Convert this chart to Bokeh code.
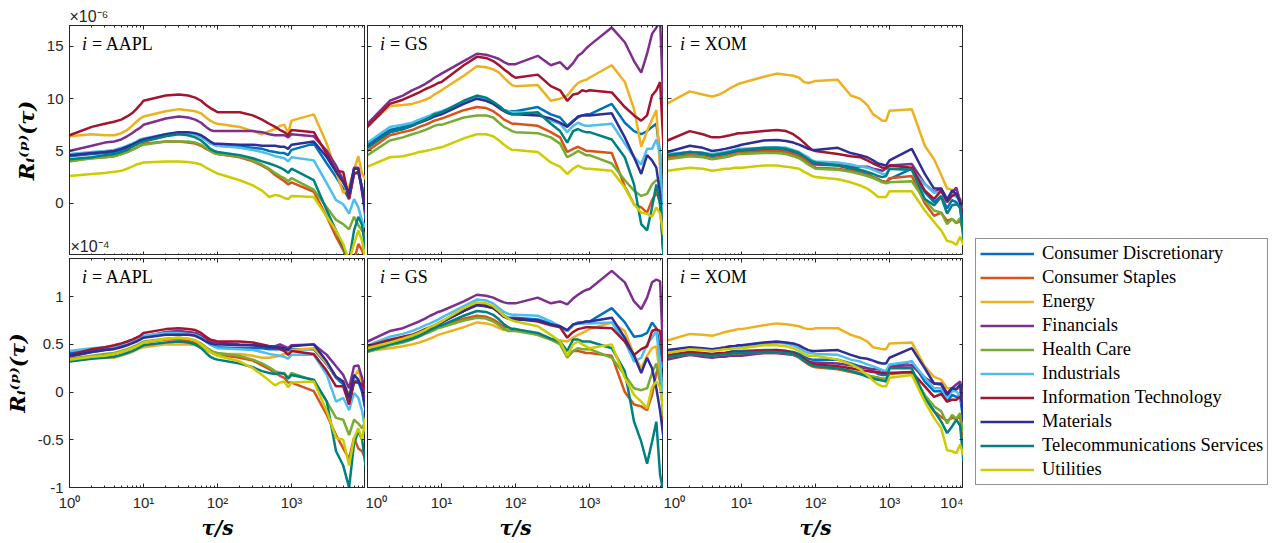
from bokeh.plotting import figure
from bokeh.models import (Range1d, LinearAxis, LogAxis, FixedTicker,
                          CustomJSTickFormatter, Label, Legend, LegendItem)
from bokeh.layouts import row, column
from bokeh.embed import file_html
from bokeh.resources import INLINE

# ---------------- data ----------------
tau = [1, 2, 3, 4, 5, 6, 7, 8, 9,
       10, 20, 30, 40, 50, 60, 70, 80, 90,
       100, 200, 300, 400, 500, 600, 700, 800, 900,
       1000, 2000, 3000, 4000, 5000, 6000, 7000, 8000, 9000,
       10000]

sectors = ["Consumer Discretionary", "Consumer Staples", "Energy", "Financials",
           "Health Care", "Industrials", "Information Technology", "Materials",
           "Telecommunications Services", "Utilities"]
colors = ["#0072BD", "#D95319", "#EDB120", "#7E2F8E", "#77AC30",
          "#4DBEEE", "#A2142F", "#2E2E96", "#008080", "#CCCC00"]
stocks = ["AAPL", "GS", "XOM"]

# ---- top row, R_i^(p)(tau) in units of 1e-6 ----
top_AAPL_CD = [4.5, 4.7, 4.8, 4.9, 5.1, 5.3, 5.5, 5.7, 5.9, 6.0, 6.5, 6.7, 6.7, 6.6, 6.4, 6.1, 5.8, 5.6,
               5.5, 5.4, 5.3, 5.2, 5.0, 4.9, 4.8, 4.8, 4.6, 5.1, 5.7, 3.8, 2.5, 1.4, 0.4, 2.9, 2.9, 1.5, -1.5]
top_AAPL_CS = [4.1, 4.3, 4.4, 4.5, 4.7, 4.9, 5.1, 5.3, 5.5, 5.7, 5.9, 5.9, 5.8, 5.7, 5.5, 5.2, 5.0, 4.8,
               4.7, 4.4, 4.0, 3.6, 3.2, 2.7, 2.4, 2.1, 1.8, 2.0, 1.1, -1.3, -3.2, -4.5, -5.5, -5.5, -3.9, -4.5, -5.5]
top_AAPL_EN = [6.4, 6.6, 6.5, 6.5, 6.7, 7.0, 7.4, 7.8, 8.1, 8.3, 8.8, 9.0, 8.9, 8.8, 8.6, 8.2, 7.9, 7.7,
               7.6, 7.3, 6.9, 6.6, 6.9, 7.1, 7.4, 7.5, 6.7, 7.9, 8.5, 5.7, 3.0, 1.0, 1.6, 3.2, 4.5, 2.8, 2.3]
top_AAPL_FI = [5.0, 5.5, 5.8, 5.9, 6.1, 6.4, 6.7, 7.0, 7.2, 7.5, 8.1, 8.3, 8.2, 8.0, 7.7, 7.3, 7.0, 6.9,
               6.9, 6.9, 6.9, 6.8, 6.6, 6.5, 6.5, 6.5, 6.3, 6.6, 6.4, 5.0, 3.6, 2.2, 1.0, 3.4, 3.4, 1.0, -1.0]
top_AAPL_HC = [4.0, 4.3, 4.4, 4.5, 4.7, 4.9, 5.1, 5.3, 5.5, 5.6, 5.9, 5.9, 5.9, 5.8, 5.6, 5.3, 5.0, 4.8,
               4.7, 4.5, 4.1, 3.7, 3.3, 2.9, 2.6, 2.4, 2.1, 2.4, 1.3, -0.4, -1.6, -2.0, -2.5, -1.3, -2.1, -2.6, -3.2]
top_AAPL_IN = [4.7, 4.9, 5.0, 5.1, 5.3, 5.5, 5.7, 5.9, 6.1, 6.2, 6.6, 6.8, 6.7, 6.6, 6.3, 6.0, 5.7, 5.6,
               5.5, 5.3, 5.1, 4.9, 4.7, 4.5, 4.4, 4.3, 4.0, 4.4, 4.1, 1.9, 0.3, -0.1, -1.0, 0.4, -0.4, -1.7, -2.3]
top_AAPL_IT = [6.5, 7.3, 7.6, 7.8, 8.0, 8.3, 8.6, 9.0, 9.4, 9.8, 10.3, 10.4, 10.3, 10.1, 9.8, 9.4, 9.1, 8.9,
               8.7, 8.7, 8.4, 8.0, 7.6, 7.3, 7.0, 6.8, 6.5, 7.0, 6.8, 4.7, 3.1, 3.0, 0.4, 2.8, 3.0, 1.5, -0.5]
top_AAPL_MA = [4.6, 4.8, 4.9, 5.0, 5.2, 5.4, 5.6, 5.8, 6.0, 6.1, 6.6, 6.8, 6.8, 6.7, 6.5, 6.2, 5.9, 5.7,
               5.7, 5.6, 5.6, 5.5, 5.5, 5.5, 5.4, 5.4, 5.2, 5.6, 5.9, 4.4, 3.0, 2.0, 0.9, 3.3, 3.3, 1.2, -0.7]
top_AAPL_TE = [4.2, 4.4, 4.6, 4.7, 4.9, 5.1, 5.4, 5.6, 5.8, 5.9, 6.4, 6.6, 6.5, 6.3, 6.0, 5.6, 5.2, 5.0,
               4.9, 4.6, 4.3, 4.0, 3.8, 3.6, 3.4, 3.2, 2.9, 3.3, 2.2, -0.7, -2.6, -4.2, -5.5, -2.6, -1.3, -2.1, -4.5]
top_AAPL_UT = [2.6, 2.8, 2.9, 3.0, 3.1, 3.3, 3.5, 3.7, 3.8, 3.9, 4.0, 4.0, 3.95, 3.85, 3.7, 3.4, 3.2, 3.0,
               2.85, 2.2, 1.7, 1.2, 0.6, 0.8, 0.7, 0.5, 0.4, 0.7, 0.6, -1.3, -2.6, -3.9, -5.5, -3.9, -2.6, -3.6, -5.5]

top_GS_CD = [5.7, 7.0, 7.3, 7.6, 7.9, 8.1, 8.3, 8.5, 8.6, 8.7, 9.6, 10.1, 9.9, 9.6, 9.3, 8.9, 8.8, 8.8,
             8.8, 9.2, 8.5, 8.2, 7.4, 7.9, 8.2, 8.4, 8.5, 8.5, 9.5, 7.7, 6.9, 6.6, 6.9, 7.3, 7.6, 4.7, -5.0]
top_GS_CS = [5.0, 6.5, 6.8, 7.0, 7.3, 7.5, 7.7, 7.9, 8.0, 8.1, 8.9, 9.2, 9.1, 8.8, 8.4, 8.0, 7.8, 7.6,
             7.6, 7.4, 6.8, 6.3, 4.9, 5.2, 5.4, 5.2, 5.0, 5.0, 4.8, 1.6, -0.1, -0.4, -0.9, 0.3, 1.0, 0.2, -5.0]
top_GS_EN = [7.4, 9.3, 9.4, 9.5, 9.7, 9.9, 10.1, 10.4, 10.6, 10.8, 12.2, 13.1, 13.0, 12.8, 12.5, 12.0, 11.6, 11.3,
             11.2, 11.3, 9.8, 10.0, 10.3, 11.0, 11.5, 11.7, 11.8, 12.0, 13.2, 11.6, 9.0, 5.4, 6.9, 8.0, 8.9, 3.1, -4.5]
top_GS_FI = [7.6, 9.8, 10.3, 10.8, 11.1, 11.4, 11.7, 12.0, 12.2, 12.4, 13.6, 14.3, 14.2, 14.0, 13.8, 13.5, 13.3, 13.3,
             13.3, 14.1, 13.2, 13.5, 12.8, 13.4, 14.1, 14.4, 14.8, 15.1, 16.8, 15.4, 13.6, 12.5, 14.3, 16.2, 16.8, 17.5, 9.0]
top_GS_HC = [4.6, 6.0, 6.3, 6.6, 6.8, 7.0, 7.2, 7.4, 7.5, 7.5, 8.2, 8.4, 8.4, 8.2, 7.7, 7.3, 7.1, 6.9,
             6.8, 6.7, 6.3, 5.7, 4.4, 4.7, 5.0, 4.8, 4.6, 4.6, 3.8, 2.2, 1.2, 0.7, 0.9, 1.8, 2.2, 2.0, -3.0]
top_GS_IN = [5.8, 7.3, 7.5, 7.7, 8.0, 8.2, 8.4, 8.6, 8.7, 8.8, 9.6, 10.1, 9.9, 9.6, 9.2, 8.9, 8.8, 8.7,
             8.7, 8.6, 7.9, 7.6, 6.8, 7.4, 7.7, 7.5, 7.4, 7.4, 7.6, 5.7, 4.4, 3.7, 5.2, 5.2, 6.1, 4.7, -3.2]
top_GS_IT = [7.3, 9.5, 9.9, 10.3, 10.6, 10.9, 11.1, 11.3, 11.5, 11.6, 13.2, 14.0, 13.9, 13.6, 13.2, 12.8, 12.5, 12.2,
             12.0, 12.3, 11.2, 10.8, 9.8, 10.4, 10.5, 10.8, 10.7, 10.8, 10.6, 9.2, 8.4, 7.9, 8.4, 10.3, 10.8, 11.6, 5.4]
top_GS_MA = [5.4, 6.8, 7.1, 7.4, 7.7, 7.9, 8.1, 8.3, 8.4, 8.5, 9.5, 10.0, 9.8, 9.5, 9.1, 8.8, 8.6, 8.5,
             8.5, 8.4, 8.1, 7.7, 7.3, 7.8, 8.3, 8.4, 8.4, 8.4, 8.6, 6.3, 4.4, 2.8, 4.6, 4.1, 3.4, 0.9, -5.0]
top_GS_TE = [5.3, 6.8, 7.1, 7.4, 7.7, 8.0, 8.2, 8.5, 8.6, 8.7, 9.8, 10.3, 10.1, 9.7, 9.3, 8.9, 8.7, 8.5,
             8.5, 8.7, 7.6, 6.9, 5.8, 6.9, 7.1, 6.9, 6.8, 6.8, 6.1, 4.4, 1.8, -2.0, -2.6, -0.4, 1.8, -0.2, -5.0]
top_GS_UT = [3.5, 4.4, 4.5, 4.7, 4.9, 5.0, 5.1, 5.2, 5.3, 5.35, 6.2, 6.6, 6.6, 6.4, 6.0, 5.6, 5.3, 5.1,
             5.1, 4.9, 3.9, 3.5, 2.8, 3.3, 3.6, 3.4, 3.3, 3.3, 3.1, 1.5, -0.1, -0.9, -1.0, -1.3, -0.4, -1.0, -3.0]

top_XOM_CD = [4.5, 4.8, 4.7, 4.5, 4.6, 4.7, 4.8, 4.9, 5.0, 5.0, 5.1, 5.1, 5.0, 4.8, 4.6, 4.3, 4.0, 3.8,
              3.7, 3.6, 3.3, 3.0, 2.8, 2.5, 2.3, 2.1, 2.0, 2.3, 3.3, 1.05, 0.1, 0.7, -0.5, 0.3, 0.1, -0.5, -2.6]
top_XOM_CS = [4.4, 4.6, 4.5, 4.3, 4.4, 4.5, 4.6, 4.7, 4.8, 4.8, 5.0, 5.0, 4.9, 4.7, 4.5, 4.2, 3.9, 3.6,
              3.4, 3.3, 3.1, 2.9, 2.7, 2.5, 2.3, 2.1, 2.0, 2.4, 2.6, 0.0, -1.2, -0.9, -1.7, -1.5, -1.9, -1.7, -2.5]
top_XOM_EN = [9.55, 10.7, 10.4, 10.2, 10.4, 10.7, 11.0, 11.2, 11.4, 11.5, 12.1, 12.4, 12.3, 12.2, 12.0, 11.6, 11.5, 11.6,
              11.7, 11.8, 10.3, 10.0, 9.4, 8.5, 8.2, 7.9, 7.9, 8.85, 9.0, 5.5, 4.2, 2.7, 1.4, 1.3, 0.8, 0.3, -2.7]
top_XOM_FI = [4.6, 4.9, 4.8, 4.6, 4.7, 4.8, 4.9, 5.0, 5.1, 5.1, 5.2, 5.3, 5.2, 5.0, 4.8, 4.5, 4.2, 4.0,
              3.8, 3.7, 3.5, 3.5, 3.5, 3.3, 3.2, 3.1, 3.3, 3.6, 3.75, 1.85, 1.05, 1.4, 0.4, 1.05, 1.5, 0.2, -1.0]
top_XOM_HC = [4.2, 4.5, 4.4, 4.2, 4.3, 4.4, 4.5, 4.6, 4.7, 4.7, 4.8, 4.8, 4.7, 4.5, 4.3, 4.0, 3.7, 3.5,
              3.3, 3.2, 3.0, 2.8, 2.6, 2.4, 2.2, 2.0, 1.9, 2.0, 2.1, 0.3, -0.7, -0.9, -2.0, -1.5, -1.9, -1.4, -3.0]
top_XOM_IN = [4.7, 4.9, 4.8, 4.7, 4.8, 4.9, 5.0, 5.1, 5.2, 5.2, 5.3, 5.35, 5.3, 5.1, 4.9, 4.6, 4.4, 4.1,
              4.0, 3.9, 3.7, 3.5, 3.4, 3.2, 3.0, 2.8, 2.8, 3.3, 3.2, 1.8, 1.0, 1.1, 0.4, 0.9, 0.6, 0.5, -2.0]
top_XOM_IT = [6.0, 6.9, 6.6, 6.3, 6.3, 6.4, 6.5, 6.6, 6.7, 6.7, 6.9, 7.0, 6.9, 6.6, 6.2, 5.8, 5.4, 5.1,
              5.0, 4.7, 4.5, 4.4, 4.1, 3.8, 3.6, 3.4, 3.4, 3.6, 3.4, 1.2, 0.4, 1.2, 0.1, 0.7, 0.9, 0.3, -1.7]
top_XOM_MA = [4.9, 5.5, 5.3, 5.0, 5.1, 5.2, 5.3, 5.4, 5.5, 5.6, 6.0, 6.05, 5.95, 5.8, 5.6, 5.4, 5.2, 5.1,
              5.1, 5.3, 4.8, 4.6, 4.4, 4.1, 3.8, 3.7, 3.6, 4.1, 5.2, 2.8, 1.4, 1.4, 0.3, 1.2, 0.9, 0.0, -2.6]
top_XOM_TE = [4.6, 4.9, 4.8, 4.6, 4.7, 4.8, 4.9, 5.0, 5.1, 5.1, 5.3, 5.3, 5.2, 5.0, 4.8, 4.5, 4.2, 4.0,
              3.9, 3.6, 3.4, 3.2, 3.0, 2.8, 2.6, 2.5, 2.6, 3.3, 3.2, 0.4, -0.2, 0.6, -1.0, -0.2, -0.1, -0.3, -3.5]
top_XOM_UT = [3.1, 3.4, 3.3, 3.1, 3.2, 3.3, 3.3, 3.4, 3.4, 3.4, 3.6, 3.6, 3.5, 3.4, 3.3, 3.0, 2.8, 2.6,
              2.5, 2.3, 2.0, 1.7, 1.4, 1.0, 0.6, 0.6, 0.6, 1.15, 1.15, -0.7, -1.8, -2.6, -3.6, -3.7, -4.0, -3.2, -4.0]

# ---- bottom row, R_i^(p)(tau) in units of 1e-4 ----
bot_AAPL_CD = [0.41, 0.44, 0.46, 0.47, 0.49, 0.51, 0.53, 0.55, 0.56, 0.58, 0.61, 0.62, 0.61, 0.60, 0.57, 0.53, 0.50, 0.48,
               0.47, 0.46, 0.46, 0.46, 0.45, 0.45, 0.45, 0.44, 0.42, 0.45, 0.45, 0.29, 0.15, 0.08, -0.13, 0.12, 0.11, 0.0, -0.19]
bot_AAPL_CS = [0.34, 0.37, 0.38, 0.40, 0.42, 0.44, 0.46, 0.48, 0.50, 0.52, 0.55, 0.55, 0.54, 0.52, 0.49, 0.45, 0.42, 0.40,
               0.39, 0.36, 0.33, 0.28, 0.24, 0.20, 0.17, 0.15, 0.10, 0.10, 0.01, -0.24, -0.45, -0.59, -0.70, -0.48, -0.59, -0.62, -0.70]
bot_AAPL_EN = [0.35, 0.36, 0.36, 0.36, 0.38, 0.40, 0.42, 0.44, 0.46, 0.47, 0.50, 0.50, 0.50, 0.49, 0.47, 0.44, 0.42, 0.41,
               0.40, 0.40, 0.38, 0.36, 0.36, 0.37, 0.38, 0.40, 0.42, 0.44, 0.46, 0.30, 0.16, 0.11, -0.03, 0.16, 0.23, 0.10, -0.10]
bot_AAPL_FI = [0.37, 0.42, 0.44, 0.46, 0.48, 0.50, 0.52, 0.54, 0.56, 0.58, 0.63, 0.64, 0.63, 0.62, 0.59, 0.56, 0.53, 0.52,
               0.52, 0.50, 0.49, 0.49, 0.48, 0.48, 0.50, 0.48, 0.46, 0.49, 0.50, 0.39, 0.27, 0.18, 0.04, 0.27, 0.28, 0.15, -0.06]
bot_AAPL_HC = [0.35, 0.38, 0.40, 0.41, 0.43, 0.45, 0.47, 0.49, 0.51, 0.53, 0.56, 0.57, 0.56, 0.54, 0.51, 0.47, 0.44, 0.42,
               0.41, 0.38, 0.34, 0.30, 0.26, 0.22, 0.20, 0.20, 0.15, 0.20, 0.12, -0.10, -0.27, -0.29, -0.45, -0.29, -0.33, -0.38, -0.31]
bot_AAPL_IN = [0.43, 0.46, 0.47, 0.48, 0.50, 0.52, 0.54, 0.56, 0.57, 0.59, 0.62, 0.62, 0.61, 0.60, 0.57, 0.53, 0.50, 0.48,
               0.46, 0.45, 0.44, 0.42, 0.40, 0.39, 0.38, 0.37, 0.35, 0.39, 0.39, 0.18, -0.10, -0.06, -0.19, -0.01, -0.06, -0.20, -0.41]
bot_AAPL_IT = [0.39, 0.45, 0.47, 0.49, 0.51, 0.53, 0.55, 0.57, 0.59, 0.62, 0.66, 0.67, 0.66, 0.65, 0.62, 0.58, 0.55, 0.54,
               0.53, 0.53, 0.52, 0.50, 0.48, 0.47, 0.45, 0.43, 0.39, 0.43, 0.40, 0.22, 0.06, 0.06, -0.13, 0.10, 0.10, 0.08, 0.04]
bot_AAPL_MA = [0.38, 0.42, 0.44, 0.45, 0.47, 0.49, 0.51, 0.53, 0.55, 0.57, 0.60, 0.60, 0.60, 0.59, 0.56, 0.53, 0.51, 0.50,
               0.50, 0.49, 0.49, 0.48, 0.47, 0.47, 0.47, 0.46, 0.44, 0.48, 0.50, 0.32, 0.16, 0.11, -0.06, 0.18, 0.13, 0.02, -0.17]
bot_AAPL_TE = [0.32, 0.35, 0.36, 0.37, 0.39, 0.41, 0.43, 0.45, 0.47, 0.49, 0.52, 0.53, 0.52, 0.50, 0.46, 0.41, 0.37, 0.35,
               0.34, 0.30, 0.26, 0.22, 0.20, 0.19, 0.20, 0.19, 0.14, 0.18, 0.13, -0.10, -0.62, -0.77, -1.0, -0.54, -0.41, -0.50, -0.77]
bot_AAPL_UT = [0.34, 0.37, 0.38, 0.40, 0.42, 0.44, 0.46, 0.48, 0.50, 0.52, 0.56, 0.57, 0.56, 0.54, 0.50, 0.46, 0.42, 0.40,
               0.38, 0.32, 0.25, 0.18, 0.12, 0.07, 0.10, 0.11, 0.05, 0.10, 0.11, -0.20, -0.48, -0.50, -0.77, -0.48, -0.38, -0.50, -0.27]

bot_GS_CD = [0.45, 0.53, 0.56, 0.59, 0.62, 0.65, 0.67, 0.69, 0.71, 0.73, 0.85, 0.92, 0.91, 0.89, 0.85, 0.80, 0.78, 0.78,
             0.78, 0.76, 0.72, 0.69, 0.64, 0.70, 0.73, 0.73, 0.74, 0.74, 0.88, 0.73, 0.58, 0.59, 0.62, 0.73, 0.67, 0.45, 0.25]
bot_GS_CS = [0.43, 0.50, 0.53, 0.56, 0.59, 0.62, 0.64, 0.66, 0.68, 0.70, 0.77, 0.80, 0.79, 0.76, 0.72, 0.68, 0.66, 0.66,
             0.66, 0.60, 0.55, 0.52, 0.38, 0.43, 0.43, 0.42, 0.41, 0.41, 0.38, 0.00, -0.13, -0.15, -0.19, -0.03, 0.20, 0.30, -0.30]
bot_GS_EN = [0.43, 0.46, 0.48, 0.50, 0.52, 0.54, 0.56, 0.58, 0.60, 0.61, 0.68, 0.73, 0.72, 0.70, 0.67, 0.65, 0.66, 0.66,
             0.66, 0.60, 0.55, 0.54, 0.53, 0.57, 0.60, 0.62, 0.64, 0.66, 0.73, 0.64, 0.39, 0.25, 0.38, 0.46, 0.48, 0.16, -0.20]
bot_GS_FI = [0.53, 0.64, 0.67, 0.71, 0.74, 0.77, 0.80, 0.82, 0.84, 0.85, 0.95, 1.02, 1.01, 0.99, 0.96, 0.94, 0.93, 0.93,
             0.93, 0.99, 0.93, 0.95, 0.92, 0.98, 1.02, 1.05, 1.07, 1.08, 1.27, 1.15, 0.95, 0.87, 0.99, 1.15, 1.18, 1.16, 0.29]
bot_GS_HC = [0.42, 0.49, 0.52, 0.55, 0.58, 0.61, 0.63, 0.65, 0.67, 0.68, 0.75, 0.78, 0.77, 0.74, 0.70, 0.66, 0.64, 0.64,
             0.64, 0.60, 0.55, 0.50, 0.36, 0.43, 0.46, 0.45, 0.45, 0.45, 0.36, 0.18, 0.04, 0.02, 0.04, 0.20, 0.30, 0.10, -0.25]
bot_GS_IN = [0.49, 0.58, 0.61, 0.64, 0.67, 0.70, 0.72, 0.74, 0.76, 0.78, 0.90, 0.97, 0.96, 0.93, 0.88, 0.84, 0.82, 0.81,
             0.81, 0.80, 0.74, 0.69, 0.64, 0.70, 0.72, 0.72, 0.72, 0.72, 0.73, 0.53, 0.32, 0.36, 0.50, 0.57, 0.64, 0.30, -0.10]
bot_GS_IT = [0.48, 0.55, 0.58, 0.60, 0.63, 0.66, 0.68, 0.70, 0.72, 0.74, 0.85, 0.92, 0.90, 0.88, 0.83, 0.79, 0.77, 0.77,
             0.77, 0.74, 0.70, 0.68, 0.57, 0.63, 0.66, 0.67, 0.68, 0.68, 0.67, 0.53, 0.39, 0.45, 0.48, 0.64, 0.66, 0.64, 0.32]
bot_GS_MA = [0.45, 0.53, 0.56, 0.59, 0.62, 0.65, 0.67, 0.69, 0.71, 0.73, 0.85, 0.91, 0.90, 0.88, 0.84, 0.79, 0.77, 0.76,
             0.76, 0.75, 0.71, 0.69, 0.65, 0.71, 0.72, 0.73, 0.74, 0.74, 0.78, 0.57, 0.38, 0.20, 0.36, 0.25, 0.04, -0.20, -0.48]
bot_GS_TE = [0.43, 0.50, 0.53, 0.56, 0.59, 0.62, 0.65, 0.67, 0.69, 0.70, 0.80, 0.85, 0.84, 0.81, 0.76, 0.71, 0.68, 0.66,
             0.66, 0.62, 0.56, 0.53, 0.43, 0.55, 0.55, 0.53, 0.53, 0.53, 0.46, 0.22, -0.31, -0.52, -0.75, -0.52, -0.31, -0.87, -1.05]
bot_GS_UT = [0.46, 0.52, 0.56, 0.59, 0.62, 0.65, 0.68, 0.70, 0.72, 0.74, 0.88, 0.94, 0.93, 0.90, 0.85, 0.80, 0.77, 0.75,
             0.74, 0.69, 0.60, 0.53, 0.38, 0.50, 0.53, 0.50, 0.48, 0.46, 0.50, 0.15, -0.03, -0.10, -0.17, 0.05, 0.11, 0.05, -0.20]

bot_XOM_CD = [0.38, 0.41, 0.40, 0.39, 0.40, 0.41, 0.42, 0.43, 0.43, 0.43, 0.44, 0.44, 0.43, 0.42, 0.40, 0.37, 0.35, 0.34,
              0.34, 0.34, 0.30, 0.27, 0.25, 0.22, 0.19, 0.18, 0.18, 0.26, 0.32, 0.11, 0.01, 0.01, -0.10, -0.03, -0.05, -0.05, -0.31]
bot_XOM_CS = [0.36, 0.39, 0.38, 0.37, 0.38, 0.39, 0.39, 0.40, 0.40, 0.40, 0.41, 0.41, 0.40, 0.39, 0.36, 0.32, 0.29, 0.27,
              0.26, 0.24, 0.21, 0.19, 0.17, 0.16, 0.15, 0.14, 0.14, 0.19, 0.21, -0.05, -0.20, -0.26, -0.30, -0.27, -0.28, -0.26, -0.50]
bot_XOM_EN = [0.54, 0.61, 0.60, 0.59, 0.61, 0.63, 0.64, 0.65, 0.66, 0.66, 0.70, 0.72, 0.71, 0.70, 0.69, 0.67, 0.66, 0.66,
              0.67, 0.67, 0.60, 0.57, 0.53, 0.47, 0.46, 0.45, 0.45, 0.51, 0.52, 0.27, 0.16, 0.13, 0.04, 0.04, 0.03, 0.04, -0.13]
bot_XOM_FI = [0.34, 0.39, 0.37, 0.36, 0.37, 0.37, 0.38, 0.38, 0.38, 0.38, 0.41, 0.41, 0.40, 0.39, 0.37, 0.34, 0.32, 0.31,
              0.31, 0.30, 0.28, 0.26, 0.25, 0.24, 0.24, 0.23, 0.20, 0.27, 0.28, 0.15, 0.09, 0.09, -0.01, 0.04, 0.08, 0.11, -0.06]
bot_XOM_HC = [0.37, 0.40, 0.39, 0.38, 0.39, 0.40, 0.40, 0.41, 0.41, 0.41, 0.42, 0.42, 0.41, 0.40, 0.37, 0.33, 0.30, 0.28,
              0.27, 0.25, 0.22, 0.20, 0.18, 0.16, 0.15, 0.14, 0.13, 0.20, 0.20, -0.03, -0.15, -0.20, -0.33, -0.24, -0.28, -0.22, -0.42]
bot_XOM_IN = [0.43, 0.46, 0.45, 0.44, 0.45, 0.46, 0.47, 0.48, 0.48, 0.48, 0.50, 0.52, 0.51, 0.49, 0.46, 0.43, 0.41, 0.41,
              0.40, 0.39, 0.34, 0.32, 0.29, 0.27, 0.25, 0.23, 0.22, 0.29, 0.32, 0.15, 0.04, 0.04, -0.06, 0.01, 0.01, -0.05, -0.20]
bot_XOM_IT = [0.39, 0.42, 0.41, 0.40, 0.41, 0.41, 0.42, 0.42, 0.42, 0.42, 0.43, 0.44, 0.43, 0.41, 0.38, 0.35, 0.32, 0.30,
              0.29, 0.27, 0.25, 0.23, 0.22, 0.21, 0.21, 0.20, 0.20, 0.20, 0.21, 0.06, -0.05, -0.02, -0.10, -0.08, -0.08, -0.05, -0.13]
bot_XOM_MA = [0.44, 0.47, 0.46, 0.45, 0.46, 0.47, 0.48, 0.48, 0.49, 0.49, 0.52, 0.53, 0.52, 0.51, 0.49, 0.46, 0.44, 0.43,
              0.43, 0.44, 0.39, 0.36, 0.35, 0.33, 0.31, 0.30, 0.30, 0.36, 0.46, 0.25, 0.09, 0.08, -0.03, 0.04, 0.03, 0.08, -0.31]
bot_XOM_TE = [0.37, 0.40, 0.39, 0.38, 0.39, 0.40, 0.40, 0.41, 0.41, 0.41, 0.42, 0.42, 0.41, 0.40, 0.37, 0.33, 0.30, 0.28,
              0.27, 0.25, 0.22, 0.19, 0.16, 0.14, 0.13, 0.12, 0.11, 0.25, 0.25, -0.06, -0.20, -0.31, -0.43, -0.36, -0.29, -0.35, -0.73]
bot_XOM_UT = [0.41, 0.45, 0.44, 0.43, 0.44, 0.45, 0.45, 0.46, 0.46, 0.46, 0.49, 0.49, 0.48, 0.46, 0.43, 0.40, 0.38, 0.38,
              0.38, 0.34, 0.29, 0.24, 0.18, 0.12, 0.08, 0.06, 0.06, 0.15, 0.18, -0.10, -0.27, -0.38, -0.61, -0.62, -0.64, -0.55, -0.66]

top_data = {
    "AAPL": [top_AAPL_CD, top_AAPL_CS, top_AAPL_EN, top_AAPL_FI, top_AAPL_HC,
             top_AAPL_IN, top_AAPL_IT, top_AAPL_MA, top_AAPL_TE, top_AAPL_UT],
    "GS": [top_GS_CD, top_GS_CS, top_GS_EN, top_GS_FI, top_GS_HC,
           top_GS_IN, top_GS_IT, top_GS_MA, top_GS_TE, top_GS_UT],
    "XOM": [top_XOM_CD, top_XOM_CS, top_XOM_EN, top_XOM_FI, top_XOM_HC,
            top_XOM_IN, top_XOM_IT, top_XOM_MA, top_XOM_TE, top_XOM_UT],
}
bot_data = {
    "AAPL": [bot_AAPL_CD, bot_AAPL_CS, bot_AAPL_EN, bot_AAPL_FI, bot_AAPL_HC,
             bot_AAPL_IN, bot_AAPL_IT, bot_AAPL_MA, bot_AAPL_TE, bot_AAPL_UT],
    "GS": [bot_GS_CD, bot_GS_CS, bot_GS_EN, bot_GS_FI, bot_GS_HC,
           bot_GS_IN, bot_GS_IT, bot_GS_MA, bot_GS_TE, bot_GS_UT],
    "XOM": [bot_XOM_CD, bot_XOM_CS, bot_XOM_EN, bot_XOM_FI, bot_XOM_HC,
            bot_XOM_IN, bot_XOM_IT, bot_XOM_MA, bot_XOM_TE, bot_XOM_UT],
}

x_major = [1, 10, 100, 1000, 10000]
x_minor = [m * 10 ** k for k in range(4) for m in range(2, 10)]
y_ticks_top = [0, 5, 10, 15]
y_ticks_bot = [-1, -0.5, 0, 0.5, 1]
scale_top = "\u00d710\u207b\u2076"
scale_bot = "\u00d710\u207b\u2074"

# ---------------- styling ----------------
AX = "#262626"
FRAME_W = 296
LEFT_BORDER = [69, 2, 4]
TOP_BORDER = 25
BOTTOM_BORDER = 49
TOTAL_H = TOP_BORDER + 230 + 3 + 229 + BOTTOM_BORDER
SERIF = "Liberation Serif"


def x_formatter(last_exp):
    return CustomJSTickFormatter(code="""
        const sup = ["\u2070", "\u00b9", "\u00b2", "\u00b3", "\u2074"];
        const e = Math.round(Math.log10(tick));
        if (e > %d) { return ""; }
        return "10" + sup[e];
    """ % last_exp)


def style_axis(ax, show_labels):
    ax.axis_line_color = AX
    ax.major_tick_line_color = AX
    ax.minor_tick_line_color = AX
    ax.major_tick_in = 4
    ax.major_tick_out = 0
    ax.minor_tick_in = 2
    ax.minor_tick_out = 0
    ax.major_label_text_font = "Liberation Sans"
    ax.major_label_text_color = AX
    if show_labels:
        ax.major_label_text_font_size = "15px"
        ax.major_label_standoff = 6
    else:
        ax.formatter = CustomJSTickFormatter(code="return '';")
        ax.major_label_text_font_size = "1px"
        ax.major_label_standoff = 0


def make_panel(ci, ri):
    stock = stocks[ci]
    is_top = ri == 0
    yr = (-5, 17) if is_top else (-1, 1.4)
    yt = y_ticks_top if is_top else y_ticks_bot
    data = top_data[stock] if is_top else bot_data[stock]
    p = figure(x_axis_type="log", x_range=Range1d(1, 1e4), y_range=Range1d(*yr),
               frame_width=FRAME_W, frame_height=230 if is_top else 229,
               output_backend="svg", toolbar_location=None,
               min_border_left=LEFT_BORDER[ci], min_border_right=0,
               min_border_top=TOP_BORDER if is_top else 3,
               min_border_bottom=0 if is_top else BOTTOM_BORDER,
               background_fill_color="white", border_fill_color="white")
    p.xgrid.visible = False
    p.ygrid.visible = False
    p.outline_line_color = AX
    p.outline_line_width = 1

    if ci == 0 and is_top:
        p.title.text = scale_top
        p.title.align = "left"
        p.title.offset = 0
        p.title.standoff = 1
        p.title.text_font = "Liberation Sans"
        p.title.text_font_style = "normal"
        p.title.text_font_size = "16px"
        p.title.text_color = AX

    last_exp = 4 if ci == 2 else 3
    xa = p.xaxis[0]
    xa.ticker = FixedTicker(ticks=x_major, minor_ticks=x_minor)
    xa.formatter = x_formatter(last_exp)
    style_axis(xa, not is_top)
    if not is_top:
        xa.axis_label = "\u03c4/s"
        xa.axis_label_text_font = "DejaVu Serif"
        xa.axis_label_text_font_style = "bold italic"
        xa.axis_label_text_font_size = "20px"
        xa.axis_label_text_color = "black"
        xa.axis_label_standoff = 2

    ya = p.yaxis[0]
    ya.ticker = FixedTicker(ticks=yt, minor_ticks=[])
    ya.formatter = CustomJSTickFormatter(code="return String(tick);")
    style_axis(ya, ci == 0)
    if ci == 0:
        ya.axis_label = "R\u1d62\u207d\u1d56\u207e(\u03c4)"
        ya.axis_label_text_font = "DejaVu Serif"
        ya.axis_label_text_font_style = "bold italic"
        ya.axis_label_text_font_size = "21px"
        ya.axis_label_text_color = "black"
        ya.axis_label_standoff = 5

    # box ticks on top and right
    ta = LogAxis(ticker=FixedTicker(ticks=x_major, minor_ticks=x_minor))
    style_axis(ta, False)
    p.add_layout(ta, "above")
    ra = LinearAxis(ticker=FixedTicker(ticks=yt, minor_ticks=[]))
    style_axis(ra, False)
    p.add_layout(ra, "right")

    for series, color in zip(data, colors):
        p.line(tau, series, line_color=color, line_width=2.5)

    # panel tag  "i = STOCK"
    p.add_layout(Label(x=1, y=yr[1], x_offset=12.5, y_offset=-18, text="i",
                       text_font=SERIF, text_font_style="italic",
                       text_font_size="18px", text_baseline="middle", text_color="black"))
    p.add_layout(Label(x=1, y=yr[1], x_offset=22.5, y_offset=-18, text="= " + stock,
                       text_font=SERIF, text_font_size="18px",
                       text_baseline="middle", text_color="black"))

    if ci == 0 and is_top:
        p.add_layout(Label(x=1, y=yr[0], x_offset=1, y_offset=1, text=scale_bot,
                           text_font="Liberation Sans", text_font_size="16px",
                           text_baseline="bottom", text_color=AX))
    return p


top_row = row([make_panel(c, 0) for c in range(3)], spacing=0)
bot_row = row([make_panel(c, 1) for c in range(3)], spacing=0)
grid = column([top_row, bot_row], spacing=0)

# legend panel
lg = figure(width=315, height=TOTAL_H, x_range=Range1d(0, 1), y_range=Range1d(0, 1),
            output_backend="svg", toolbar_location=None, min_border=0,
            x_axis_location=None, y_axis_location=None)
lg.xgrid.visible = False
lg.ygrid.visible = False
lg.outline_line_color = None
items = []
for name, color in zip(sectors, colors):
    r = lg.line(x=[-10, -9], y=[-10, -10], line_color=color, line_width=2.5)
    items.append(LegendItem(label=name, renderers=[r]))
legend = Legend(items=items, location=(12, TOTAL_H - 487 + 2),
                border_line_color=AX, border_line_width=1,
                label_text_font=SERIF, label_text_font_size="18.5px",
                label_text_color="black",
                glyph_width=54, glyph_height=21, label_height=21,
                spacing=3, padding=4, label_standoff=8, margin=0,
                background_fill_color="white", background_fill_alpha=1)
lg.add_layout(legend)

page = row([grid, lg], spacing=0)

open("out.html", "w").write(file_html(page, INLINE, title="R_i^(p)(tau)"))
